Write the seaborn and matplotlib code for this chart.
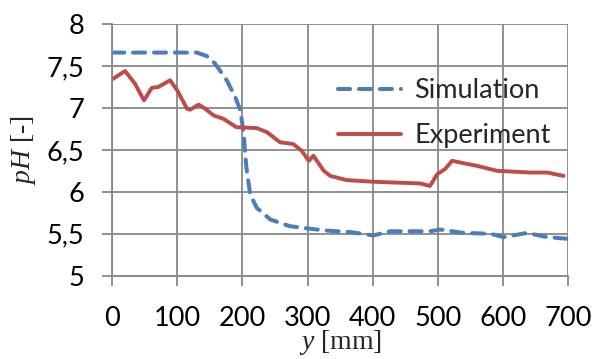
import numpy as np
import pandas as pd
import matplotlib
matplotlib.use("Agg")
import matplotlib.pyplot as plt
import seaborn as sns
from matplotlib.ticker import FuncFormatter

# Simulation (blue dashed)
sim_x = [0, 50, 100, 130, 145, 158, 176, 189, 197, 202, 206, 212, 222, 243, 273, 325, 366, 401, 427, 460, 488, 504, 540, 581, 601, 637, 668, 700]
sim_y = [7.66, 7.66, 7.66, 7.66, 7.62, 7.53, 7.33, 7.13, 6.97, 6.69, 6.30, 5.97, 5.81, 5.67, 5.59, 5.54, 5.52, 5.48, 5.53, 5.53, 5.53, 5.55, 5.51, 5.50, 5.46, 5.51, 5.46, 5.44]

# Experiment (red solid)
exp_x = [0, 20, 35, 49, 61, 71, 89, 100, 115, 120, 133, 143, 156, 171, 191, 222, 238, 258, 278, 291, 302, 309, 325, 335, 360, 401, 437, 473, 488, 499, 511, 522, 534, 560, 591, 642, 668, 693]
exp_y = [7.34, 7.44, 7.29, 7.09, 7.24, 7.25, 7.33, 7.21, 6.99, 6.98, 7.04, 6.99, 6.91, 6.87, 6.77, 6.76, 6.71, 6.59, 6.57, 6.49, 6.37, 6.43, 6.25, 6.19, 6.14, 6.12, 6.11, 6.10, 6.07, 6.21, 6.27, 6.37, 6.35, 6.31, 6.25, 6.23, 6.23, 6.19]

x_ticks = [0, 100, 200, 300, 400, 500, 600, 700]
y_ticks = [5, 5.5, 6, 6.5, 7, 7.5, 8]

sns.set_theme(style="whitegrid")
plt.rcParams['font.family'] = ['Lato', 'DejaVu Sans']
plt.rcParams['mathtext.fontset'] = 'custom'
plt.rcParams['mathtext.it'] = 'Liberation Serif:italic'
plt.rcParams['mathtext.rm'] = 'Liberation Serif'

fig = plt.figure(figsize=(5.93, 3.59), dpi=100)
ax = fig.add_axes([0.189, 0.232, 0.769, 0.701])

df_sim = pd.DataFrame({"y": sim_x, "pH": sim_y})
df_exp = pd.DataFrame({"y": exp_x, "pH": exp_y})

sns.lineplot(data=df_sim, x="y", y="pH", ax=ax, color="#4a7ebb", linewidth=2.9,
             label="Simulation")
sns.lineplot(data=df_exp, x="y", y="pH", ax=ax, color="#be4b48", linewidth=2.8,
             label="Experiment")
ln = ax.lines[0]
ln.set_dashes([3.0, 2.2])
ln.set_dash_capstyle("round")

ax.set_xlim(0, 700)
ax.set_ylim(5, 8)
ax.set_xticks(x_ticks)
ax.set_yticks(y_ticks)
fmt = FuncFormatter(lambda v, p: ("%g" % v).replace(".", ","))
ax.yaxis.set_major_formatter(fmt)

grid_c = "#888888"
ax.grid(True, color=grid_c, linewidth=1.3)
for s in ["left", "bottom"]:
    ax.spines[s].set_color(grid_c)
    ax.spines[s].set_linewidth(1.3)
for s in ["top", "right"]:
    ax.spines[s].set_visible(False)
ax.tick_params(axis="both", which="major", direction="out", length=7, width=1.3,
               color=grid_c, labelsize=19.5, labelcolor="black",
               bottom=True, left=True)
ax.tick_params(axis="x", pad=15)
ax.tick_params(axis="y", pad=13)

ax.set_xlabel(r"$y$ [mm]", family="Liberation Serif", fontsize=20, labelpad=-2)
ax.set_ylabel(r"$pH$ [-]", family="Liberation Serif", fontsize=20, labelpad=6)

leg = ax.legend(loc="upper right", bbox_to_anchor=(0.985, 0.828), frameon=False,
                fontsize=19.5, handlelength=2.3, handletextpad=0.5, labelspacing=0.75,
                borderaxespad=0)
leg.get_lines()[0].set_dashes([3.0, 2.2])
leg.get_lines()[0].set_dash_capstyle("round")

fig.savefig("out.png", dpi=100, facecolor="white")
